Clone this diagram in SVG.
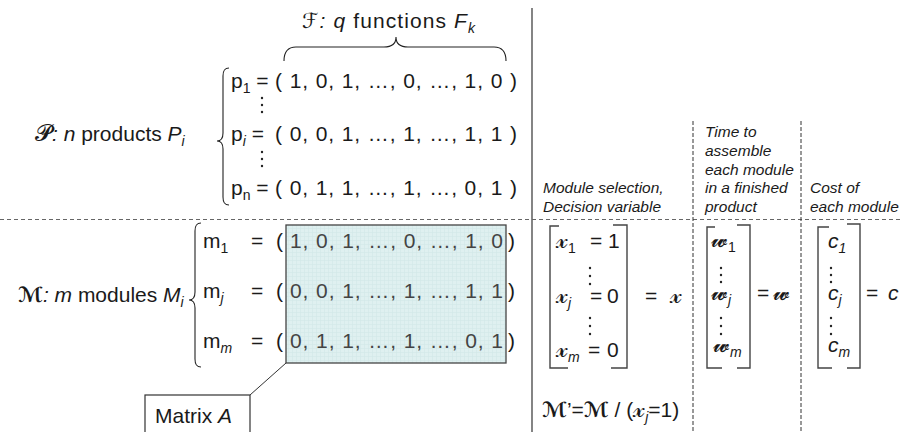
<svg xmlns="http://www.w3.org/2000/svg" width="903" height="432" viewBox="0 0 903 432">
<style>
text{font-family:"Liberation Sans",Arial,sans-serif;fill:#1a1a1a;font-size:21px}
.sub{font-size:14px}
.it{font-style:italic}
.hd{font-size:15.5px;font-style:italic}
.scr{font-family:"DejaVu Sans","Noto Sans",serif;font-style:italic}
.scm{font-family:"DejaVu Sans","Noto Sans",serif;font-style:italic;font-weight:bold}
.mx{font-family:"DejaVu Serif","Liberation Serif",serif}
.xs{font-size:25px}
.ws{font-size:23px}
.num{fill:#444}
.br{fill:none;stroke:#222;stroke-width:1.1}
.vb{fill:none;stroke:#444;stroke-width:1.4}
.dot{fill:#222}
.solid{stroke:#333;stroke-width:1.2}
.dash{stroke:#666;stroke-width:1;stroke-dasharray:4 3}
.dotted{stroke:#333;stroke-width:1;stroke-dasharray:4 2}
</style>
<defs>
<pattern id="grid" width="4" height="4" patternUnits="userSpaceOnUse">
<rect width="4" height="4" fill="#dff0f0"/>
<path d="M0,0.5 H4 M0.5,0 V4" stroke="#d2e8e8" stroke-width="0.6"/>
</pattern>
</defs>
<rect width="903" height="432" fill="#fff"/>
<g id="separators">
<line class="solid" x1="532" y1="8" x2="532" y2="432"/>
<line class="dash" x1="0" y1="219.5" x2="903" y2="219.5"/>
<line class="dotted" x1="693" y1="121" x2="693" y2="432"/>
<line class="dotted" x1="801" y1="121" x2="801" y2="432"/>
</g>
<g id="functions">
<text x="302" y="28" textLength="173" lengthAdjust="spacing"><tspan class="scr">ℱ</tspan><tspan class="it">: q</tspan> functions <tspan class="it">F</tspan><tspan class="sub it" dy="5">k</tspan></text>
<path class="br" d="M284,61 C284,52 287,47 296,47 L384,47 C392,47 396,43 396,37 C396,43 400,47 408,47 L494,47 C503,47 506,52 506,61"/>
</g>
<g id="products">
<text x="35" y="141"><tspan class="mx" font-size="23">𝓟</tspan><tspan class="it">: n</tspan> products <tspan class="it">P</tspan><tspan class="sub it" dy="5">i</tspan></text>
<path class="br" d="M229,68 C224,68 223,71 223,76 L223,133 C223,138 221,141 217,141 C221,141 223,144 223,149 L223,197 C223,202 224,205 229,205"/>
<text x="231" y="88">p<tspan class="sub" dy="5">1</tspan><tspan dy="-5"> =</tspan></text>
<text x="275" y="88" textLength="242" lengthAdjust="spacing">( 1, 0, 1, …, 0, …, 1, 0 )</text>
<text x="231" y="141">p<tspan class="sub it" dy="5">i</tspan><tspan dy="-5"> =</tspan></text>
<text x="275" y="141" textLength="242" lengthAdjust="spacing">( 0, 0, 1, …, 1, …, 1, 1 )</text>
<text x="231" y="195">p<tspan class="sub" dy="5">n</tspan><tspan dy="-5"> =</tspan></text>
<text x="275" y="195" textLength="242" lengthAdjust="spacing">( 0, 1, 1, …, 1, …, 0, 1 )</text>
<circle class="dot" cx="262" cy="98" r="1.2"/><circle class="dot" cx="262" cy="105" r="1.2"/><circle class="dot" cx="262" cy="112" r="1.2"/>
<circle class="dot" cx="262" cy="152" r="1.2"/><circle class="dot" cx="262" cy="159" r="1.2"/><circle class="dot" cx="262" cy="166" r="1.2"/>
</g>
<g id="modules">
<text x="18" y="302"><tspan class="scm">ℳ</tspan><tspan class="it">: m</tspan> modules <tspan class="it">M</tspan><tspan class="sub it" dy="5">i</tspan></text>
<path class="br" d="M201,223 C196,223 195,226 195,231 L195,292 C195,297 193,300 189,300 C193,300 195,303 195,308 L195,359 C195,364 196,367 201,367"/>
<rect x="286" y="225" width="220" height="138" fill="url(#grid)" stroke="#444" stroke-width="1.3"/>
<text y="248"><tspan x="203">m</tspan><tspan class="sub" dy="5">1</tspan><tspan x="251" dy="-5">=</tspan><tspan x="276">(</tspan></text>
<text class="num" x="290" y="248" textLength="213" lengthAdjust="spacing">1, 0, 1, …, 0, …, 1, 0</text>
<text x="508" y="248">)</text>
<text y="298"><tspan x="203">m</tspan><tspan class="sub it" dy="5">j</tspan><tspan x="251" dy="-5">=</tspan><tspan x="276">(</tspan></text>
<text class="num" x="290" y="298" textLength="213" lengthAdjust="spacing">0, 0, 1, …, 1, …, 1, 1</text>
<text x="508" y="298">)</text>
<text y="348"><tspan x="203">m</tspan><tspan class="sub it" dy="5">m</tspan><tspan x="251" dy="-5">=</tspan><tspan x="276">(</tspan></text>
<text class="num" x="290" y="348" textLength="213" lengthAdjust="spacing">0, 1, 1, …, 1, …, 0, 1</text>
<text x="508" y="348">)</text>
</g>
<g id="matrixA">
<rect x="145" y="395" width="105" height="45" fill="#fff" stroke="#333" stroke-width="1.2"/>
<text x="155" y="423" font-size="22">Matrix <tspan class="it">A</tspan></text>
</g>
<g id="connectors">
<line x1="250" y1="395" x2="286" y2="363" stroke="#333" stroke-width="1"/>
</g>
<g id="selection">
<text class="hd" x="543" y="193">Module selection,</text>
<text class="hd" x="543" y="212">Decision variable</text>
<path class="vb" d="M559,226 H550 V368 H568 M613,225 H627 V368 H611"/>
<text y="248"><tspan x="556" class="mx xs">𝓍</tspan><tspan class="sub" dy="5">1</tspan><tspan x="590" dy="-5">=</tspan><tspan x="608">1</tspan></text>
<text y="303"><tspan x="556" class="mx xs">𝓍</tspan><tspan class="sub it" dy="5">j</tspan><tspan x="590" dy="-5">=</tspan><tspan x="607">0</tspan></text>
<text y="357"><tspan x="556" class="mx xs">𝓍</tspan><tspan class="sub it" dy="5">m</tspan><tspan x="588" dy="-5">=</tspan><tspan x="607">0</tspan></text>
<circle class="dot" cx="590" cy="268" r="1.2"/><circle class="dot" cx="590" cy="276" r="1.2"/><circle class="dot" cx="590" cy="284" r="1.2"/>
<circle class="dot" cx="590" cy="318" r="1.2"/><circle class="dot" cx="590" cy="326" r="1.2"/><circle class="dot" cx="590" cy="334" r="1.2"/>
<text y="303"><tspan x="645">=</tspan><tspan x="670" class="mx xs">𝓍</tspan></text>
<text x="542" y="417"><tspan class="scm">ℳ</tspan>’=<tspan class="scm">ℳ</tspan> / (<tspan class="mx xs">𝓍</tspan><tspan class="sub it" dy="5">j</tspan><tspan dy="-5">=1)</tspan></text>
</g>
<g id="time">
<text class="hd" x="705" y="137">Time to</text>
<text class="hd" x="705" y="156">assemble</text>
<text class="hd" x="705" y="175">each module</text>
<text class="hd" x="705" y="193">in a finished</text>
<text class="hd" x="705" y="212">product</text>
<path class="vb" d="M715,227 H707 V368 H722 M737,225 H750 V368 H737"/>
<text y="247"><tspan x="711" class="mx ws">𝔀</tspan><tspan class="sub" dy="5">1</tspan></text>
<text y="300"><tspan x="711" class="mx ws">𝔀</tspan><tspan class="sub it" dy="5">j</tspan></text>
<text y="352"><tspan x="713" class="mx ws">𝔀</tspan><tspan class="sub it" dy="5">m</tspan></text>
<circle class="dot" cx="721" cy="268" r="1.2"/><circle class="dot" cx="721" cy="275" r="1.2"/><circle class="dot" cx="721" cy="282" r="1.2"/>
<circle class="dot" cx="721" cy="318" r="1.2"/><circle class="dot" cx="721" cy="326" r="1.2"/><circle class="dot" cx="721" cy="334" r="1.2"/>
<text y="300"><tspan x="757">=</tspan><tspan x="773" class="mx ws">𝔀</tspan></text>
</g>
<g id="cost">
<text class="hd" x="810" y="193">Cost of</text>
<text class="hd" x="810" y="212">each module</text>
<path class="vb" d="M829,227 H818 V368 H832 M847,224 H860 V368 H847"/>
<text class="it" y="248"><tspan x="828">c</tspan><tspan class="sub" dy="5">1</tspan></text>
<text class="it" y="300"><tspan x="828">c</tspan><tspan class="sub" dy="5">j</tspan></text>
<text class="it" y="352"><tspan x="828">c</tspan><tspan class="sub" dy="5">m</tspan></text>
<circle class="dot" cx="831" cy="268" r="1.2"/><circle class="dot" cx="831" cy="275" r="1.2"/><circle class="dot" cx="831" cy="282" r="1.2"/>
<circle class="dot" cx="831" cy="318" r="1.2"/><circle class="dot" cx="831" cy="326" r="1.2"/><circle class="dot" cx="831" cy="334" r="1.2"/>
<text y="300"><tspan x="866">=</tspan><tspan x="888" class="it">c</tspan></text>
</g>
</svg>
